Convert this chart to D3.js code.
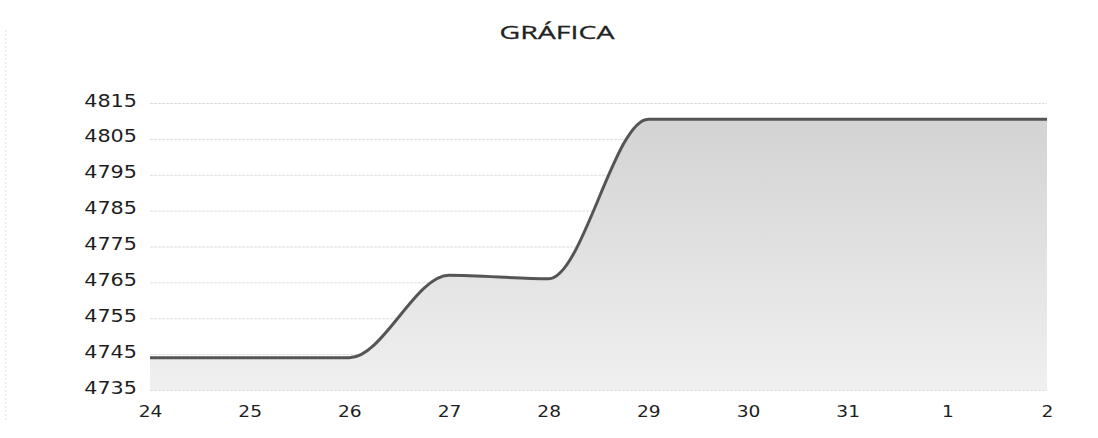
<!DOCTYPE html>
<html>
<head>
<meta charset="utf-8">
<script src="https://cdn.jsdelivr.net/npm/d3@7"></script>
<style>
  body { margin: 0; background: #fff; }
  svg { display: block; font-family: "Open Sans", "Noto Sans", sans-serif; }
</style>
</head>
<body>
<svg id="chart" width="1098" height="438"></svg>
<script>
const days = ['24', '25', '26', '27', '28', '29', '30', '31', '1', '2'];
const values = [4744, 4744, 4744, 4767, 4766, 4810.5, 4810.5, 4810.5, 4810.5, 4810.5];
const yTicks = [4735, 4745, 4755, 4765, 4775, 4785, 4795, 4805, 4815];

const svg = d3.select('#chart');
const width = 1098, height = 438;
const margin = { top: 103, right: 51, bottom: 48, left: 150 };
const innerWidth = width - margin.left - margin.right;
const innerHeight = height - margin.top - margin.bottom;

// the scanned picture is stretched sideways, so text is widened to match
function widen(sel, factor) {
    sel.each(function () {
        const w = this.getComputedTextLength();
        d3.select(this).attr('textLength', w * factor).attr('lengthAdjust', 'spacingAndGlyphs');
    });
}

// faint scan edge on the left
svg.append('line')
    .attr('x1', 6).attr('x2', 6).attr('y1', 30).attr('y2', 420)
    .attr('stroke', '#ddd').attr('stroke-dasharray', '2,2');

svg.append('text')
    .attr('x', 557).attr('y', 39)
    .attr('text-anchor', 'middle')
    .attr('font-size', 19)
    .attr('fill', '#222')
    .attr('stroke', '#222').attr('stroke-width', 0.3)
    .text('GRÁFICA')
    .call(s => s.attr('textLength', 115).attr('lengthAdjust', 'spacingAndGlyphs'));

const g = svg.append('g').attr('transform', `translate(${margin.left},${margin.top})`);

const x = d3.scalePoint().domain(days).range([0, innerWidth]);
const y = d3.scaleLinear().domain([4735, 4815]).range([innerHeight, 0]);

const defs = svg.append('defs');
const grad = defs.append('linearGradient')
    .attr('id', 'fillGrad').attr('x1', 0).attr('x2', 0).attr('y1', 0).attr('y2', 1);
grad.append('stop').attr('offset', '0%').attr('stop-color', '#d3d3d3');
grad.append('stop').attr('offset', '100%').attr('stop-color', '#f0f0f0');

// gridlines
g.append('g')
    .call(d3.axisLeft(y).tickValues(yTicks).tickSize(-innerWidth).tickFormat(''))
    .call(s => s.select('.domain').remove())
    .call(s => s.selectAll('line').attr('stroke', '#dcdcdc').attr('stroke-dasharray', '3,1'));

const data = days.map((d, i) => ({ day: d, value: values[i] }));

const area = d3.area()
    .x(d => x(d.day))
    .y0(innerHeight)
    .y1(d => y(d.value))
    .curve(d3.curveMonotoneX);

const line = d3.line()
    .x(d => x(d.day))
    .y(d => y(d.value))
    .curve(d3.curveMonotoneX);

g.append('path').datum(data)
    .attr('d', area)
    .attr('fill', 'url(#fillGrad)');

g.append('path').datum(data)
    .attr('d', line)
    .attr('fill', 'none')
    .attr('stroke', '#555')
    .attr('stroke-width', 3);

// y axis labels
g.append('g')
    .call(d3.axisLeft(y).tickValues(yTicks).tickFormat(d3.format('d')).tickSize(0).tickPadding(13))
    .attr('font-family', '"DejaVu Sans", Verdana, sans-serif')
    .attr('font-size', 17)
    .call(s => s.select('.domain').remove())
    .call(s => s.selectAll('text').attr('fill', '#1e1e1e').attr('dy', '0.18em'))
    .call(s => widen(s.selectAll('text'), 1.22));

// x axis labels
g.append('g')
    .attr('transform', `translate(0,${innerHeight})`)
    .call(d3.axisBottom(x).tickSize(0).tickPadding(16))
    .attr('font-family', '"DejaVu Sans", Verdana, sans-serif')
    .attr('font-size', 15.5)
    .call(s => s.select('.domain').remove())
    .call(s => s.selectAll('text').attr('fill', '#1e1e1e'))
    .call(s => widen(s.selectAll('text'), 1.2));
</script>
</body>
</html>
